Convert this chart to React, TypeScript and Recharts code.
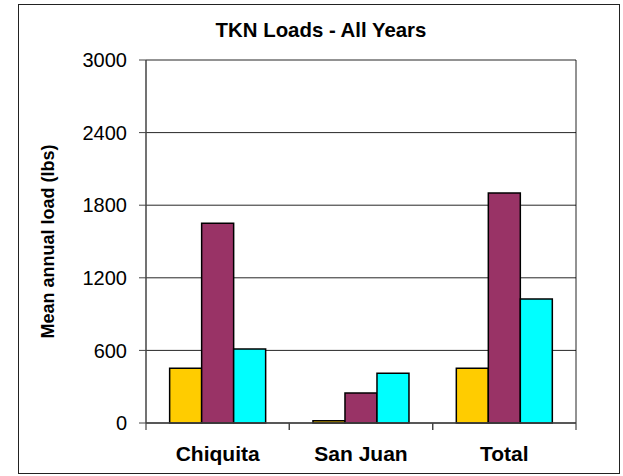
import React from "react";
import { BarChart, Bar, XAxis, YAxis, CartesianGrid, Label } from "recharts";

const categories = ["Chiquita", "San Juan", "Total"];
const seriesA = [452, 18, 452];
const seriesB = [1650, 248, 1900];
const seriesC = [612, 411, 1025];
const yTicks = [0, 600, 1200, 1800, 2400, 3000];
const title = "TKN Loads - All Years";
const yLabel = "Mean annual load (lbs)";

const data = categories.map((c, i) => ({ name: c, a: seriesA[i], b: seriesB[i], c: seriesC[i] }));

const FONT = "'Liberation Sans', Arial, sans-serif";
const TICK_MARGIN = 23;
const TICK_LEN = 7;

function CatTick(props: any) {
  const { x, y, payload, width } = props;
  const half = width ? width / (categories.length * 2) : payload.offset || 0;
  const axisY = y - TICK_MARGIN;
  return (
    <g>
      <line x1={x - half} x2={x - half} y1={axisY} y2={axisY + TICK_LEN} stroke="#444" strokeWidth={1.2} />
      <line x1={x + half} x2={x + half} y1={axisY} y2={axisY + TICK_LEN} stroke="#444" strokeWidth={1.2} />
      <text
        x={x}
        y={y}
        dy="0.71em"
        textAnchor="middle"
        fill="#000"
        fontSize={21}
        fontWeight="bold"
        fontFamily={FONT}
      >
        {payload.value}
      </text>
    </g>
  );
}

export default function App() {
  return (
    <div style={{ position: "absolute", left: 0, top: 0, width: 623, height: 476, background: "#fff", fontFamily: FONT }}>
      <div
        style={{
          position: "absolute",
          left: 18,
          top: 4,
          width: 602,
          height: 470,
          border: "1px solid #222",
          boxSizing: "border-box",
          pointerEvents: "none",
        }}
      />
      <div
        style={{
          position: "absolute",
          left: 0,
          width: 642,
          top: 18,
          textAlign: "center",
          fontWeight: "bold",
          fontSize: 20.4,
          color: "#000",
          lineHeight: "24px",
        }}
      >
        {title}
      </div>
      <BarChart
        width={623}
        height={476}
        data={data}
        margin={{ top: 60, right: 47, bottom: 0, left: 0 }}
        barCategoryGap="16.5%"
        barGap={0}
        style={{ position: "absolute", left: 0, top: 0 }}
      >
        <CartesianGrid
          horizontal={true}
          vertical={true}
          verticalCoordinatesGenerator={(p: any) => [p.offset.left + p.offset.width]}
          stroke="#000"
          strokeOpacity={0.85}
        />
        <XAxis
          dataKey="name"
          height={53}
          axisLine={{ stroke: "#444", strokeWidth: 1.5 }}
          tickLine={false}
          tickSize={0}
          tickMargin={TICK_MARGIN}
          tick={<CatTick />}
        />
        <YAxis
          domain={[0, 3000]}
          ticks={yTicks}
          width={146}
          tickSize={7}
          tickMargin={12}
          stroke="#444"
          axisLine={{ stroke: "#444", strokeWidth: 1.5 }}
          tickLine={{ stroke: "#444" }}
          tick={{ fill: "#000", fontSize: 20, fontFamily: FONT }}
        >
          <Label
            value={yLabel}
            angle={-90}
            position="insideLeft"
            offset={48}
            style={{ textAnchor: "middle", fontWeight: "bold", fontSize: 18, fill: "#000", fontFamily: FONT }}
          />
        </YAxis>
        <Bar dataKey="a" fill="#FFCC00" stroke="#000" strokeWidth={1.5} isAnimationActive={false} />
        <Bar dataKey="b" fill="#993366" stroke="#000" strokeWidth={1.5} isAnimationActive={false} />
        <Bar dataKey="c" fill="#00FFFF" stroke="#000" strokeWidth={1.5} isAnimationActive={false} />
      </BarChart>
    </div>
  );
}
